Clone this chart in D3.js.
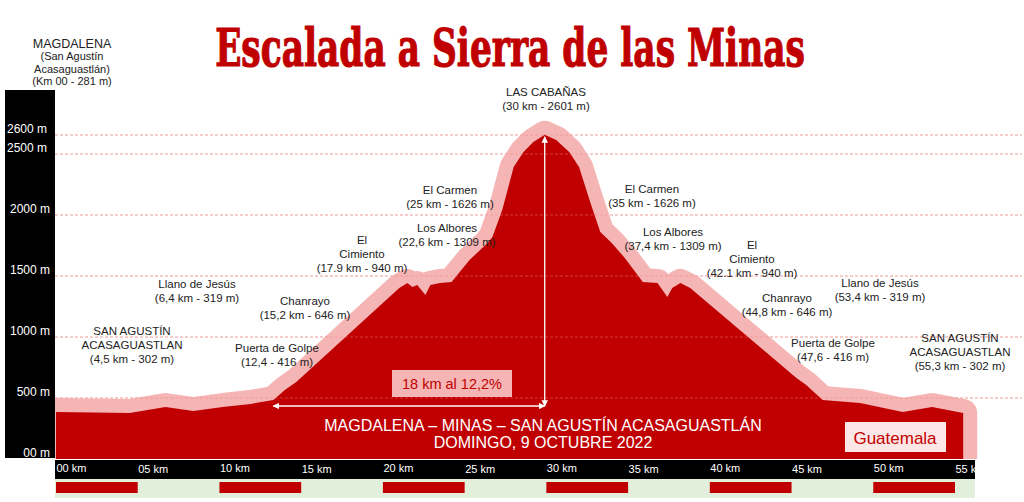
<!DOCTYPE html>
<html>
<head>
<meta charset="utf-8">
<script src="https://cdn.jsdelivr.net/npm/d3@7"></script>
<style>
  body { margin: 0; background: #fff; }
  svg { display: block; font-family: "Liberation Sans", Arial, sans-serif; }
</style>
</head>
<body>
<svg width="1024" height="502"></svg>
<script>
// profile
const distKm = [0, 4.5, 6.7, 8.4, 10.2, 11.9, 13.3, 14.0, 14.7, 21.0, 21.5, 21.8, 22.1, 22.6, 22.9, 23.5, 24.2,
  25.3, 26.4, 26.7, 27.3, 28.0, 28.6, 29.2, 29.9, 30.6, 31.4, 32.0, 32.7, 33.3, 34.0, 34.8, 35.9,
  36.8, 37.4, 37.7, 38.2, 38.8, 45.3, 45.9, 46.9, 49.2, 51.8, 53.6, 55.5];
const elevM = [385, 377, 426, 393, 426, 451, 484, 566, 631, 1402, 1443, 1410, 1426, 1344, 1426, 1443, 1451,
  1631, 1770, 1820, 2041, 2393, 2511, 2563, 2601, 2574, 2511, 2393, 2098, 1861, 1770, 1648, 1451,
  1443, 1328, 1402, 1443, 1402, 664, 607, 484, 459, 385, 426, 377];

const kmTicks = [0, 5, 10, 15, 20, 25, 30, 35, 40, 45, 50, 55];
const kmTickLabels = ["00 km", "05 km", "10 km", "15 km", "20 km", "25 km", "30 km", "35 km", "40 km", "45 km", "50 km", "55 km"];
const mTicks = [0, 500, 1000, 1500, 2000, 2500, 2600];
const mTickLabels = ["00 m", "500 m", "1000 m", "1500 m", "2000 m", "2500 m", "2600 m"];
const stripStarts = [0, 10, 20, 30, 40, 50];

const placeNames = [
  ["LAS CABAÑAS", "(30 km - 2601 m)"],
  ["El Carmen", "(25 km - 1626 m)"],
  ["Los Albores", "(22,6 km - 1309 m)"],
  ["El", "Cimiento", "(17.9 km - 940 m)"],
  ["Llano de Jesús", "(6,4 km - 319 m)"],
  ["Chanrayo", "(15,2 km - 646 m)"],
  ["SAN AGUSTÍN", "ACASAGUASTLAN", "(4,5 km - 302 m)"],
  ["Puerta de Golpe", "(12,4 - 416 m)"],
  ["El Carmen", "(35 km - 1626 m)"],
  ["Los Albores", "(37,4 km - 1309 m)"],
  ["El", "Cimiento", "(42.1 km - 940 m)"],
  ["Chanrayo", "(44,8 km - 646 m)"],
  ["Puerta de Golpe", "(47,6 - 416 m)"],
  ["Llano de Jesús", "(53,4 km - 319 m)"],
  ["SAN AGUSTÍN", "ACASAGUASTLAN", "(55,3 km - 302 m)"]
];
// centre of first line, px
const placePos = [[546, 92], [450, 190], [447, 228], [362, 240], [197, 284], [305, 301], [132, 331], [277, 348],
  [652, 189], [673, 232], [752, 245], [787, 298], [833, 343], [880, 283], [960, 338]];

const startLines = ["MAGDALENA", "(San Agustín", "Acasaguastlán)", "(Km 00 - 281 m)"];

const darkRed = "#c00000";
const pink = "#f5b5b5";

const svg = d3.select("svg");

const x = d3.scaleLinear().domain([0, 55]).range([56, 955]);
const y = d3.scaleLinear().domain([0, 2500, 2600]).range([459, 154, 135]);

const profile = distKm.map((d, i) => [d, elevM[i]]);

// title, squeezed to the reference width
const title = svg.append("text")
  .attr("text-anchor", "middle")
  .style("font-family", "'DejaVu Serif', serif")
  .style("font-weight", "bold")
  .style("font-size", "52px")
  .attr("fill", darkRed).attr("stroke", darkRed).attr("stroke-width", 1.2)
  .text("Escalada a Sierra de las Minas");
const tw = title.node().getComputedTextLength();
title.attr("transform", `translate(510,66) scale(${590 / tw},1)`);

const defs = svg.append("defs");
defs.append("clipPath").attr("id", "plot")
  .append("rect").attr("x", 55).attr("y", 0).attr("width", 969).attr("height", 459);

// grid (under the profile)
const grid = mTicks.filter(d => d > 0);
svg.append("g").selectAll("line").data(grid).join("line")
  .attr("x1", 55).attr("x2", 1022)
  .attr("y1", d => y(d)).attr("y2", d => y(d))
  .attr("stroke", "#f0c4c4").attr("stroke-dasharray", "3,2");

const area = d3.area().x(d => x(d[0])).y0(y(0)).y1(d => y(d[1]));

// pink halo then the dark profile
svg.append("path").datum(profile)
  .attr("clip-path", "url(#plot)")
  .attr("d", area)
  .attr("fill", pink).attr("stroke", pink)
  .attr("stroke-width", 28).attr("stroke-linejoin", "round");
svg.append("path").datum(profile)
  .attr("d", area)
  .attr("fill", darkRed);

// grid over the dark part
svg.append("g").selectAll("line").data(grid).join("line")
  .attr("x1", 55).attr("x2", 1022)
  .attr("y1", d => y(d)).attr("y2", d => y(d))
  .attr("stroke", "#f08080").attr("stroke-opacity", 0.45).attr("stroke-dasharray", "3,2");

// y axis on black bar
svg.append("rect").attr("x", 5).attr("y", 90).attr("width", 50).attr("height", 368).attr("fill", "#000");
const yAxis = svg.append("g")
  .attr("transform", "translate(50,0)")
  .call(d3.axisLeft(y).tickValues(mTicks).tickSize(0).tickPadding(0)
    .tickFormat((d, i) => mTickLabels[i]));
yAxis.select(".domain").remove();
yAxis.selectAll("text")
  .attr("fill", "#fff").attr("dy", "-0.25em")
  .style("font-size", "12px").style("font-family", "'Liberation Sans', Arial, sans-serif")
  .attr("x", d => d >= 2500 ? -3 : 0);

// x axis on black bar
svg.append("rect").attr("x", 55).attr("y", 460).attr("width", 920).attr("height", 19).attr("fill", "#000");
const xAxis = svg.append("g")
  .attr("transform", "translate(0,460)")
  .call(d3.axisBottom(x).tickValues(kmTicks).tickSize(0).tickPadding(0)
    .tickFormat((d, i) => kmTickLabels[i]));
xAxis.select(".domain").remove();
xAxis.selectAll("text")
  .attr("fill", "#fff").attr("text-anchor", "start")
  .attr("y", (d, i) => i % 2 ? 5 : 4)
  .style("font-size", "11px").style("font-family", "'Liberation Sans', Arial, sans-serif");

// km strip
svg.append("rect").attr("x", 55).attr("y", 479).attr("width", 920).attr("height", 19).attr("fill", "#e2efda");
svg.append("g").selectAll("rect").data(stripStarts).join("rect")
  .attr("x", d => x(d)).attr("y", 482)
  .attr("width", d => x(d + 5) - x(d)).attr("height", 11)
  .attr("fill", darkRed);

// climb arrows
defs.append("marker")
  .attr("id", "ah").attr("viewBox", "0 0 10 10").attr("refX", 9).attr("refY", 5)
  .attr("markerWidth", 5).attr("markerHeight", 5).attr("orient", "auto-start-reverse")
  .append("path").attr("d", "M0,0L10,5L0,10z").attr("fill", "#fff");
svg.append("line")
  .attr("x1", x(13.3)).attr("x2", x(29.9)).attr("y1", 406).attr("y2", 406)
  .attr("stroke", "#fff").attr("stroke-width", 1.3)
  .attr("marker-start", "url(#ah)").attr("marker-end", "url(#ah)");
svg.append("line")
  .attr("x1", x(29.9)).attr("x2", x(29.9)).attr("y1", 406).attr("y2", y(2601) + 2)
  .attr("stroke", "#fff").attr("stroke-width", 1.3)
  .attr("marker-start", "url(#ah)").attr("marker-end", "url(#ah)");

svg.append("rect").attr("x", 392).attr("y", 370).attr("width", 120).attr("height", 27).attr("fill", pink);
svg.append("text").attr("x", 452).attr("y", 389).attr("text-anchor", "middle")
  .style("font-size", "14.5px").attr("fill", darkRed).text("18 km al 12,2%");

// route caption
svg.append("text").attr("x", 543).attr("y", 431).attr("text-anchor", "middle")
  .style("font-size", "16px").attr("fill", "#fff")
  .text("MAGDALENA – MINAS – SAN AGUSTÍN ACASAGUASTLÁN");
svg.append("text").attr("x", 543).attr("y", 448).attr("text-anchor", "middle")
  .style("font-size", "16px").attr("fill", "#fff")
  .text("DOMINGO, 9 OCTUBRE 2022");

svg.append("rect").attr("x", 845).attr("y", 422).attr("width", 101).attr("height", 30).attr("fill", "#fde6e6");
svg.append("text").attr("x", 895).attr("y", 444).attr("text-anchor", "middle")
  .style("font-size", "17px").attr("fill", darkRed).text("Guatemala");

// place labels
const labels = svg.append("g").attr("fill", "#222").style("font-size", "11.5px").attr("text-anchor", "middle");
placeNames.forEach((lines, i) => {
  const t = labels.append("text").attr("x", placePos[i][0]).attr("y", placePos[i][1] + 4);
  lines.forEach((s, j) => {
    t.append("tspan").attr("x", placePos[i][0]).attr("dy", j ? 14 : 0).text(s);
  });
});

// start point note
const start = svg.append("text").attr("x", 72).attr("y", 48).attr("text-anchor", "middle").attr("fill", "#222");
startLines.forEach((s, j) => {
  start.append("tspan").attr("x", 72).attr("dy", j ? 12.3 : 0)
    .style("font-size", j ? "11px" : "12.5px").text(s);
});
</script>
</body>
</html>
